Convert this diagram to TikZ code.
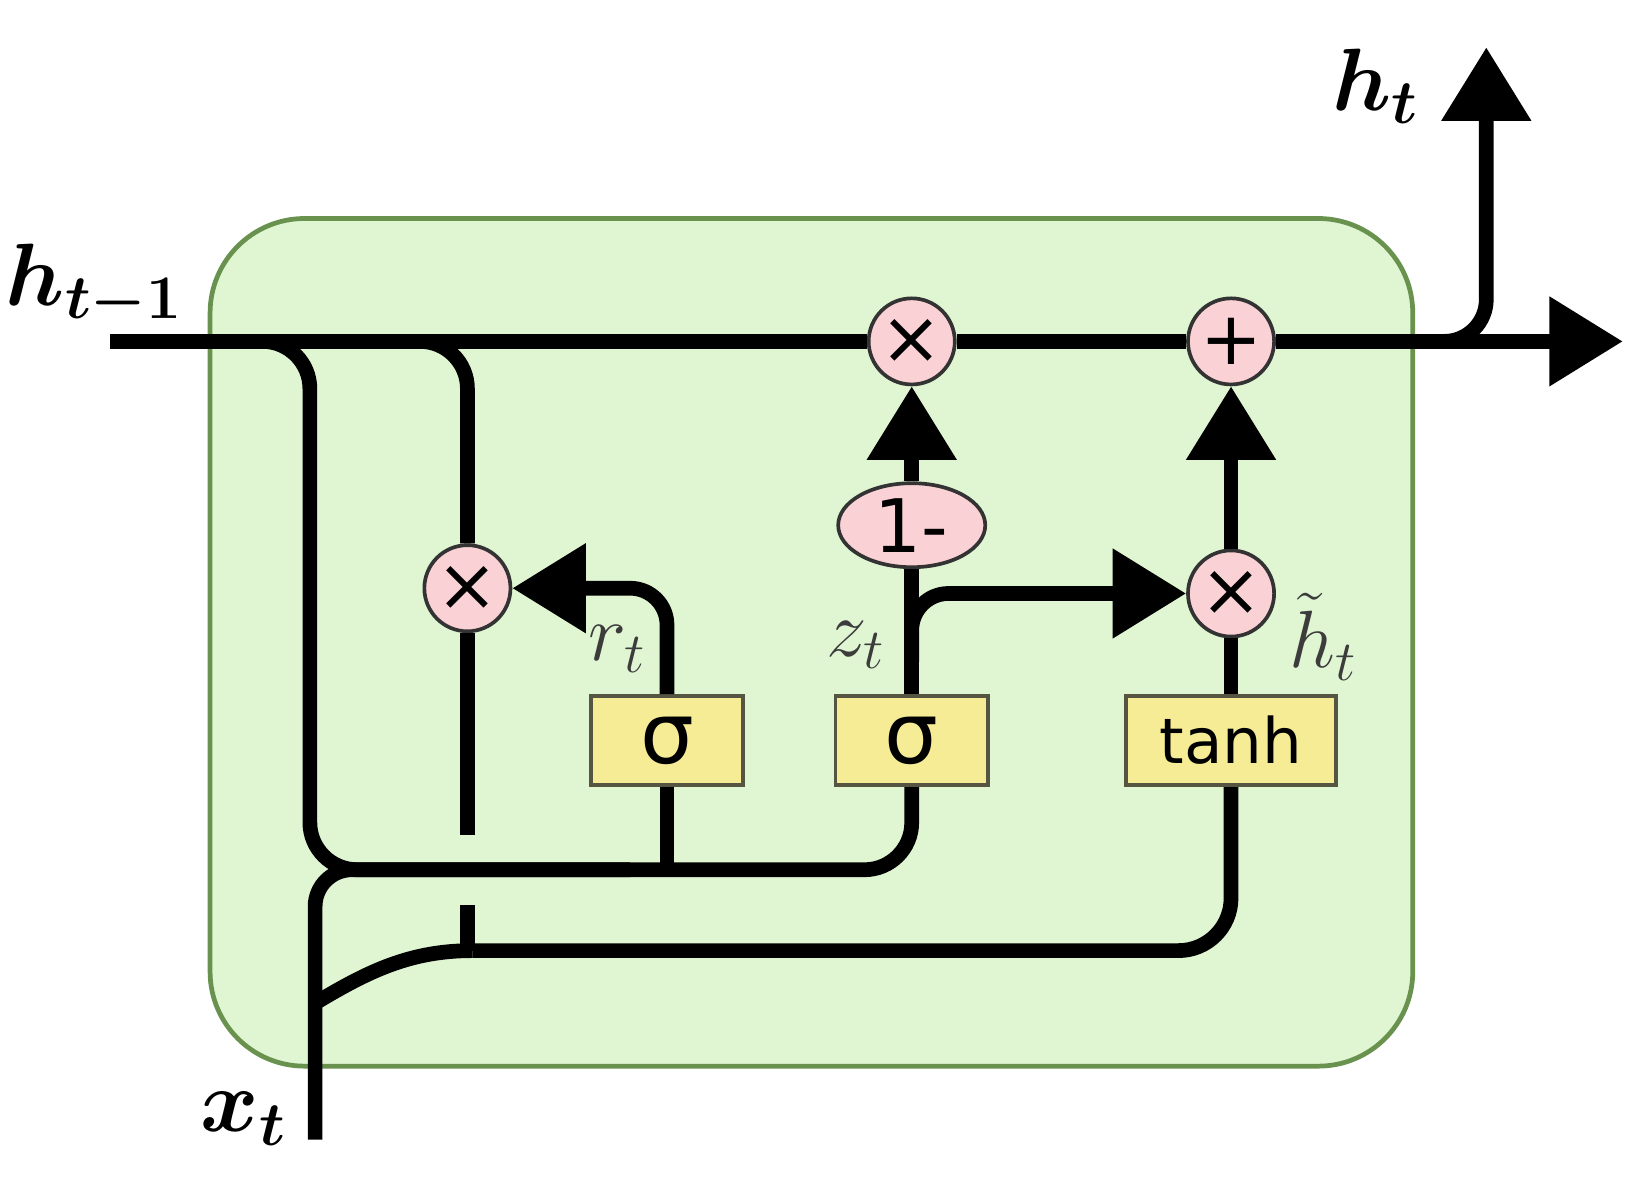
\RequirePackage{fix-cm}
\documentclass[tikz,border=0pt]{standalone}
\usepackage{fontspec}
\newfontfamily\gatefont{DejaVu Sans}
\usetikzlibrary{arrows.meta,shapes.geometric}

\definecolor{cellfill}{RGB}{224,246,211}
\definecolor{celldraw}{RGB}{104,146,78}
\definecolor{opfill}{RGB}{250,210,214}
\definecolor{gatefill}{RGB}{246,236,150}
\definecolor{gatedraw}{RGB}{85,85,65}
\definecolor{labelgray}{RGB}{60,60,60}

\tikzset{
  wire/.style={line width=1.4mm},
  flow/.style={wire,-{Triangle[length=7mm,width=8.2mm]}},
  op/.style={circle,draw=black!80,line width=0.35mm,fill=opfill,minimum size=8.2mm,inner sep=0pt,font={\gatefont\fontsize{20}{24}\selectfont}},
  gate/.style={rectangle,draw=gatedraw,line width=0.35mm,fill=gatefill,minimum height=8.5mm,inner sep=0pt},
  vec/.style={font={\fontsize{24}{28}\selectfont\boldmath}},
  sub/.style={text=labelgray,font={\fontsize{22}{26}\selectfont}}
}

\begin{document}
\begin{tikzpicture}[x=0.1mm,y=-0.1mm]
\useasboundingbox (0,0) rectangle (1568,1132);
% cell
\draw[celldraw,fill=cellfill,line width=0.45mm,rounded corners=9mm] (200,208) rectangle (1345,1015);

% pointwise ops and gates
\node[op] (mulz) at (868,325) {×};
\node[op] (addh) at (1172,325) {+};
\node[op] (mulr) at (445,560) {×};
\node[op] (mulh) at (1172,565) {×};
\node[op,ellipse,minimum width=14mm,minimum height=8mm] (onem) at (868,500) {1-};
\node[gate,minimum width=14.5mm,font={\gatefont\fontsize{23}{26}\selectfont}] (sigr) at (635,705) {σ};
\node[gate,minimum width=14.5mm,font={\gatefont\fontsize{23}{26}\selectfont}] (sigz) at (868,705) {σ};
\node[gate,minimum width=20mm,font={\gatefont\fontsize{17}{20}\selectfont}] (tanh) at (1172,705) {tanh};

\coordinate (hin) at (105,325);
\coordinate (hout) at (1545,325);
\coordinate (htop) at (1415,45);
\coordinate (xin) at (300,1085);
\coordinate (bus) at (295,828);
\coordinate (low) at (450,905);
\coordinate (zfork) at (868,630);

% state line
\draw[wire] (hin) -- (mulz);
\draw[wire] (mulz) -- (addh);
\draw[flow] (addh) -- (hout);
\draw[flow,rounded corners=4mm] (1365,325) -| (htop);

% h_{t-1} into the gates
\draw[wire,rounded corners=4.5mm] (250,325) -| (bus) -| (sigz.south);
\draw[wire] (sigr.south) -- (sigr.south |- bus);
\draw[wire,rounded corners=4.5mm] (400,325) -| (mulr.north);
\draw[wire] (mulr.south) -- (445,795);
\draw[wire] (445,862) -- (445,905);

% x_t
\draw[wire,rounded corners=3.5mm] (xin) |- (600,828);
\draw[wire] (300,955) .. controls (350,925) and (390,905) .. (low);
\draw[wire,rounded corners=5mm] (low) -| (tanh.south);

% gate outputs
\draw[wire] (sigz.north) -- (onem.south);
\draw[flow] (onem.north) -- (mulz.south);
\draw[flow,rounded corners=3.5mm] (sigr.north) |- (mulr.east);
\draw[flow,rounded corners=3.5mm] (zfork) |- (mulh.west);
\draw[wire] (tanh.north) -- (mulh.south);
\draw[flow] (mulh.north) -- (addh.south);

% labels
\node[vec] (lhin) at (90,272) {$h_{t-1}$};
\node[vec] (lhout) at (1310,82) {$h_t$};
\node[vec] (lxin) at (232,1065) {$x_t$};
\node[sub] (lr) at (588,618) {$r_t$};
\node[sub] (lz) at (815,614) {$z_t$};
\node[sub] (lh) at (1260,606) {$\tilde{h}_t$};
\end{tikzpicture}
\end{document}
